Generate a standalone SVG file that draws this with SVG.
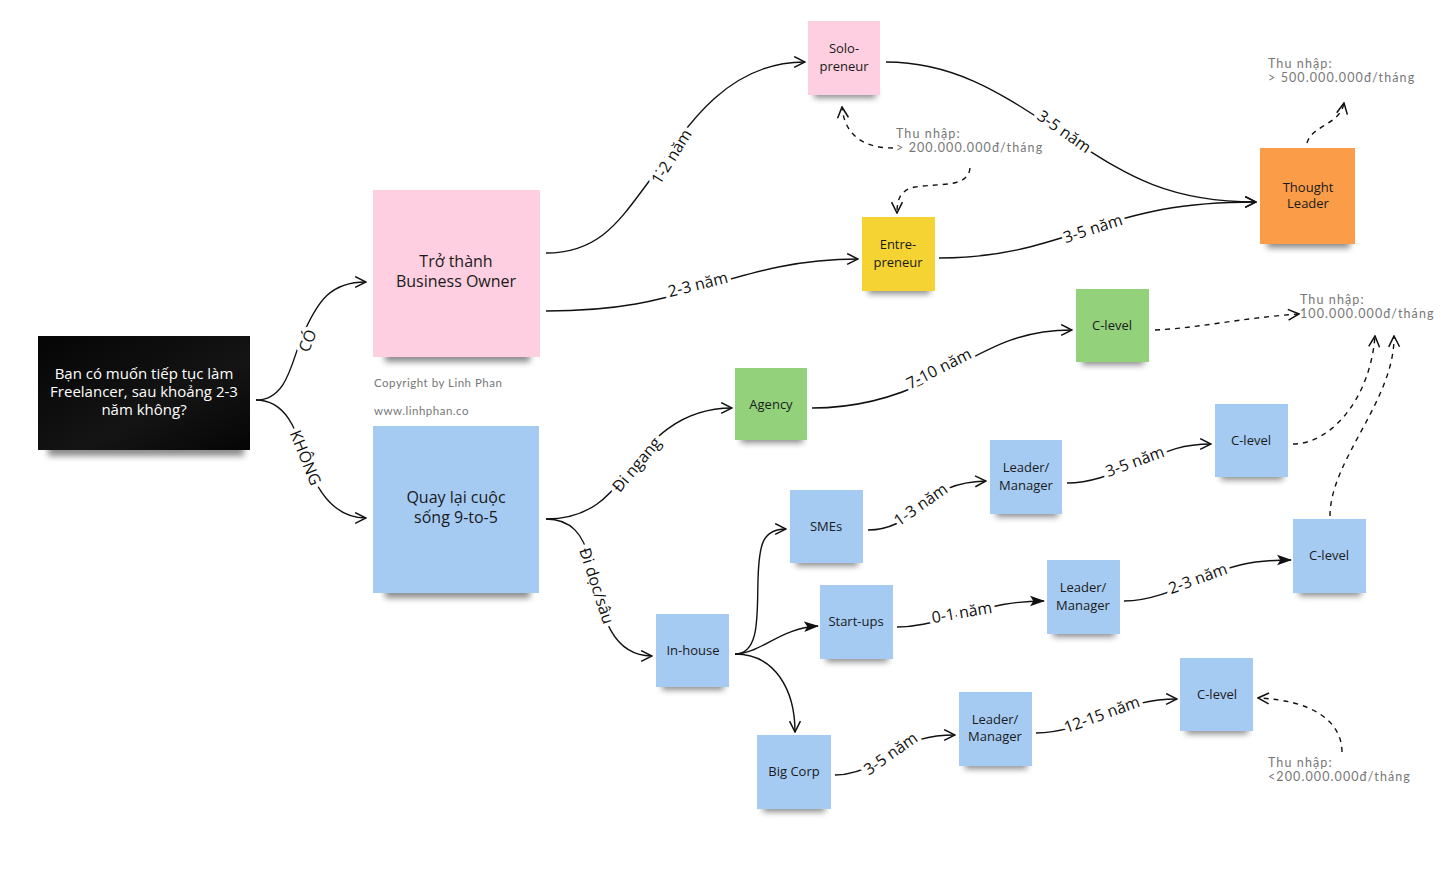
<svg xmlns="http://www.w3.org/2000/svg" width="1456" height="886" viewBox="0 0 1456 886">
<style>
.n{font-family:"Open Sans","Liberation Sans",sans-serif;font-size:13px;fill:#1a1a1a;text-anchor:middle}
.big{font-size:16px}
.q{font-family:"Open Sans","Liberation Sans",sans-serif;font-size:15px;fill:#fff;text-anchor:middle}
.c{fill:none;stroke:#111;stroke-width:1.4}
.d{fill:none;stroke:#111;stroke-width:1.4;stroke-dasharray:5 5}
.lb{font-family:"Open Sans","Liberation Sans",sans-serif;font-size:16px;fill:#111;text-anchor:middle;stroke:#fff;stroke-width:8;paint-order:stroke;stroke-linejoin:round}
.an{font-family:Lato,"Noto Sans",sans-serif;font-size:12.5px;fill:#777;letter-spacing:1.1px}
.cp{font-family:Lato,"Noto Sans",sans-serif;font-size:11.5px;fill:#777;letter-spacing:0.5px}
.sh{fill:#000;opacity:.45;filter:url(#blur)}
.pink{fill:#fdcfe0}.blue{fill:#a6cbf3}.green{fill:#93d27b}.yellow{fill:#f4d333}.orange{fill:#fb9d48}
</style>
<defs>
<filter id="blur" x="-20%" y="-100%" width="140%" height="300%"><feGaussianBlur stdDeviation="3"/></filter>
<marker id="ao" viewBox="0 0 12 12" refX="11" refY="6" markerWidth="13" markerHeight="13" markerUnits="userSpaceOnUse" orient="auto"><path d="M1,1 L11,6 L1,11" fill="none" stroke="#111" stroke-width="1.4"/></marker>
<marker id="af" viewBox="0 0 14 12" refX="13" refY="6" markerWidth="15" markerHeight="13" markerUnits="userSpaceOnUse" orient="auto"><path d="M0,1 L14,6 L0,11 L3,6 Z" fill="#111"/></marker>
<linearGradient id="qg" x1="0" y1="0" x2="1" y2="1"><stop offset="0" stop-color="#050505"/><stop offset="0.6" stop-color="#141414"/><stop offset="1" stop-color="#050505"/></linearGradient>
</defs>
<rect width="1456" height="886" fill="#fff"/>

<g id="connectors">
<path class="c" marker-end="url(#ao)" d="M256,400 C290,400 292,355 305,330 C318,302 330,282 366,282"/>
<path class="c" marker-end="url(#ao)" d="M256,400 C292,400 300,445 308,465 C318,492 335,518 366,518"/>
<path class="c" marker-end="url(#ao)" d="M546,253 C600,253 620,220 650,180 C690,120 730,62 805,62"/>
<path class="c" marker-end="url(#ao)" d="M546,311 C620,311 660,300 700,288 C760,270 800,259 858,259"/>
<path class="c" marker-end="url(#ao)" d="M886,62 C960,62 1010,100 1060,132 C1120,170 1160,202 1256,202"/>
<path class="c" marker-end="url(#ao)" d="M939,258 C1000,258 1040,245 1080,232 C1140,212 1180,202 1256,202"/>
<path class="d" marker-end="url(#ao)" d="M1307,143 C1312,125 1340,125 1344,103"/>
<path class="d" marker-end="url(#ao)" d="M893,148 C870,148 845,140 842,107"/>
<path class="d" marker-end="url(#ao)" d="M970,168 C968,188 940,183 915,187 C900,190 897,200 897,213"/>
<path class="c" marker-end="url(#ao)" d="M546,519 C590,519 610,495 625,475 C650,440 680,408 732,408"/>
<path class="c" marker-end="url(#ao)" d="M546,519 C572,519 583,535 590,560 C600,600 605,656 652,656"/>
<path class="c" marker-end="url(#ao)" d="M812,408 C860,408 900,395 930,380 C980,355 1010,330 1072,330"/>
<path class="d" marker-end="url(#ao)" d="M1155,330 C1200,328 1240,318 1299,314"/>
<path class="c" marker-end="url(#ao)" d="M868,530 C890,530 905,520 920,508 C940,490 955,482 986,481"/>
<path class="c" marker-end="url(#ao)" d="M1067,483 C1090,483 1110,475 1135,465 C1165,452 1180,444 1211,444"/>
<path class="d" marker-end="url(#ao)" d="M1293,444 C1330,444 1370,400 1375,336"/>
<path class="d" marker-end="url(#ao)" d="M1330,516 C1330,460 1395,400 1394,336"/>
<path class="c" marker-end="url(#ao)" d="M735,654 C760,654 757,615 758,580 C759,545 762,529 786,529"/>
<path class="c" marker-end="url(#af)" d="M735,654 C760,654 780,628 818,626"/>
<path class="c" marker-end="url(#ao)" d="M735,654 C775,654 795,690 795,732"/>
<path class="c" marker-end="url(#af)" d="M897,627 C920,627 940,620 960,615 C990,607 1010,601 1044,601"/>
<path class="c" marker-end="url(#af)" d="M1124,601 C1150,601 1175,590 1198,580 C1230,566 1250,560 1291,560"/>
<path class="c" marker-end="url(#ao)" d="M835,775 C855,775 875,765 890,755 C910,740 930,735 955,735"/>
<path class="c" marker-end="url(#ao)" d="M1036,733 C1060,733 1080,725 1102,716 C1130,705 1150,699 1177,699"/>
<path class="d" marker-end="url(#ao)" d="M1342,752 C1342,720 1310,700 1258,698"/>
<g id="connector-labels">
<text class="lb" transform="translate(308,341) rotate(-68)" dy="5">CÓ</text>
<text class="lb" transform="translate(305,458) rotate(68)" dy="5">KHÔNG</text>
<text class="lb" transform="translate(672,157) rotate(-58)" dy="5">1-2 năm</text>
<text class="lb" transform="translate(698,285) rotate(-14)" dy="5">2-3 năm</text>
<text class="lb" transform="translate(1064,132) rotate(35)" dy="5">3-5 năm</text>
<text class="lb" transform="translate(1093,229) rotate(-18)" dy="5">3-5 năm</text>
<text class="lb" transform="translate(637,465) rotate(-50)" dy="5">Đi ngang</text>
<text class="lb" transform="translate(596,586) rotate(72)" dy="5">Đi dọc/sâu</text>
<text class="lb" transform="translate(939,369) rotate(-27)" dy="5">7-10 năm</text>
<text class="lb" transform="translate(921,505) rotate(-35)" dy="5">1-3 năm</text>
<text class="lb" transform="translate(1135,462) rotate(-20)" dy="5">3-5 năm</text>
<text class="lb" transform="translate(962,613) rotate(-10)" dy="5">0-1 năm</text>
<text class="lb" transform="translate(1198,579) rotate(-20)" dy="5">2-3 năm</text>
<text class="lb" transform="translate(891,754) rotate(-35)" dy="5">3-5 năm</text>
<text class="lb" transform="translate(1102,715) rotate(-20)" dy="5">12-15 năm</text>
</g>
</g>

<g id="annotations">
<text class="an" x="1268" y="68">Thu nhập:</text>
<text class="an" x="1268" y="82">&gt; 500.000.000đ/tháng</text>
<text class="an" x="896" y="138">Thu nhập:</text>
<text class="an" x="896" y="152">&gt; 200.000.000đ/tháng</text>
<text class="an" x="1300" y="304">Thu nhập:</text>
<text class="an" x="1300" y="318">100.000.000đ/tháng</text>
<text class="an" x="1268" y="767">Thu nhập:</text>
<text class="an" x="1268" y="781">&lt;200.000.000đ/tháng</text>
<text class="cp" x="374" y="387">Copyright by Linh Phan</text>
<text class="cp" x="374" y="415">www.linhphan.co</text>
</g>

<g id="question">
<rect class="sh" x="48" y="444" width="196" height="12"/>
<rect x="38" y="336" width="212" height="114" fill="url(#qg)"/>
<text class="q" x="144" y="379">Bạn có muốn tiếp tục làm</text>
<text class="q" x="144" y="397">Freelancer, sau khoảng 2-3</text>
<text class="q" x="144" y="415">năm không?</text>
</g>
<g id="business-owner">
<rect class="sh" x="385" y="348" width="145" height="14"/>
<rect class="pink" x="373" y="190" width="167" height="167"/>
<text class="n big" x="456" y="267">Trở thành</text>
<text class="n big" x="456" y="287">Business Owner</text>
</g>
<g id="nine-to-five">
<rect class="sh" x="385" y="584" width="145" height="14"/>
<rect class="blue" x="373" y="426" width="166" height="167"/>
<text class="n big" x="456" y="503">Quay lại cuộc</text>
<text class="n big" x="456" y="523">sống 9-to-5</text>
</g>
<g id="solopreneur">
<rect class="sh" x="814" y="88" width="62" height="10"/>
<rect class="pink" x="808" y="21" width="72" height="74"/>
<text class="n" x="844" y="53">Solo-</text>
<text class="n" x="844" y="71">preneur</text>
</g>
<g id="entrepreneur">
<rect class="sh" x="868" y="284" width="62" height="10"/>
<rect class="yellow" x="862" y="217" width="73" height="74"/>
<text class="n" x="898" y="249">Entre-</text>
<text class="n" x="898" y="267">preneur</text>
</g>
<g id="thought-leader">
<rect class="sh" x="1267" y="236" width="83" height="12"/>
<rect class="orange" x="1260" y="148" width="95" height="96"/>
<text class="n" x="1308" y="192">Thought</text>
<text class="n" x="1308" y="208">Leader</text>
</g>
<g id="agency">
<rect class="sh" x="741" y="433" width="62" height="10"/>
<rect class="green" x="735" y="368" width="72" height="72"/>
<text class="n" x="771" y="409">Agency</text>
</g>
<g id="clevel-green">
<rect class="sh" x="1082" y="355" width="62" height="10"/>
<rect class="green" x="1076" y="289" width="73" height="73"/>
<text class="n" x="1112" y="330">C-level</text>
</g>
<g id="smes">
<rect class="sh" x="796" y="556" width="62" height="10"/>
<rect class="blue" x="790" y="490" width="73" height="73"/>
<text class="n" x="826" y="531">SMEs</text>
</g>
<g id="leader-1">
<rect class="sh" x="996" y="507" width="62" height="10"/>
<rect class="blue" x="990" y="440" width="72" height="74"/>
<text class="n" x="1026" y="472">Leader/</text>
<text class="n" x="1026" y="490">Manager</text>
</g>
<g id="clevel-1">
<rect class="sh" x="1221" y="470" width="62" height="10"/>
<rect class="blue" x="1215" y="404" width="73" height="73"/>
<text class="n" x="1251" y="445">C-level</text>
</g>
<g id="startups">
<rect class="sh" x="826" y="652" width="62" height="10"/>
<rect class="blue" x="820" y="585" width="73" height="74"/>
<text class="n" x="856" y="626">Start-ups</text>
</g>
<g id="leader-2">
<rect class="sh" x="1053" y="627" width="62" height="10"/>
<rect class="blue" x="1047" y="560" width="73" height="74"/>
<text class="n" x="1083" y="592">Leader/</text>
<text class="n" x="1083" y="610">Manager</text>
</g>
<g id="clevel-2">
<rect class="sh" x="1299" y="586" width="62" height="10"/>
<rect class="blue" x="1293" y="519" width="73" height="74"/>
<text class="n" x="1329" y="560">C-level</text>
</g>
<g id="inhouse">
<rect class="sh" x="662" y="680" width="62" height="10"/>
<rect class="blue" x="656" y="614" width="73" height="73"/>
<text class="n" x="693" y="655">In-house</text>
</g>
<g id="bigcorp">
<rect class="sh" x="763" y="802" width="62" height="10"/>
<rect class="blue" x="757" y="735" width="74" height="74"/>
<text class="n" x="794" y="776">Big Corp</text>
</g>
<g id="leader-3">
<rect class="sh" x="965" y="759" width="62" height="10"/>
<rect class="blue" x="959" y="692" width="73" height="74"/>
<text class="n" x="995" y="724">Leader/</text>
<text class="n" x="995" y="741">Manager</text>
</g>
<g id="clevel-3">
<rect class="sh" x="1186" y="724" width="62" height="10"/>
<rect class="blue" x="1180" y="658" width="73" height="73"/>
<text class="n" x="1217" y="699">C-level</text>
</g>
</svg>
